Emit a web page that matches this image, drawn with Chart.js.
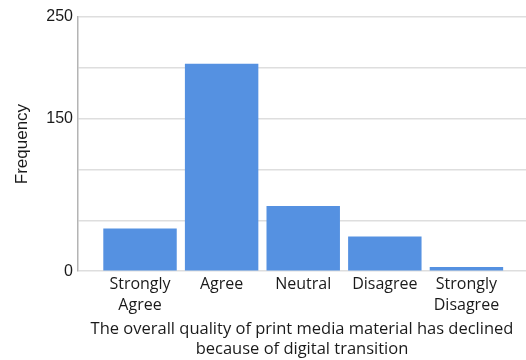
<!DOCTYPE html>
<html>
<head>
<meta charset="utf-8">
<script src="https://cdn.jsdelivr.net/npm/chart.js@4.4.1/dist/chart.umd.min.js"></script>
<style>
  html, body { margin: 0; padding: 0; background: #fff; }
  #wrap { width: 526px; height: 360px; }
</style>
</head>
<body>
<div id="wrap"><canvas id="chartFreq"></canvas></div>
<script>
// data
const categories = [
  ["Strongly", "Agree"],
  "Agree",
  "Neutral",
  "Disagree",
  ["Strongly", "Disagree"],
];
const frequencies = [42, 204, 64, 34, 4];
const yTickLabels = [0, 150, 250];

const points = frequencies.map((v, i) => ({ x: i, y: v }));

const ctx = document.getElementById("chartFreq");
new Chart(ctx.getContext("2d"), {
  type: "bar",
  data: {
    datasets: [
      {
        label: "Frequency",
        data: points,
        backgroundColor: "#5591e1",
        borderWidth: 0,
        barPercentage: 0.9,
        categoryPercentage: 1,
      },
    ],
  },
  options: {
    responsive: true,
    maintainAspectRatio: false,
    animation: false,
    layout: { padding: { top: 17, right: 0, bottom: 0, left: 0 } },
    plugins: { legend: { display: false }, tooltip: { enabled: false } },
    scales: {
      x: {
        type: "linear",
        offset: false,
        min: -0.76,
        max: 4.73,
        grid: { display: false, drawTicks: false },
        border: { display: false },
        ticks: {
          stepSize: 1,
          includeBounds: false,
          autoSkip: false,
          maxRotation: 0,
          padding: 3,
          color: "#1a1a1a",
          font: { family: "Open Sans", size: 16, lineHeight: 1.3 },
          callback: (v) => (Number.isInteger(v) ? categories[v] : ""),
        },
        title: {
          display: true,
          text: [
            "The overall quality of print media material has declined",
            "because of digital transition",
          ],
          color: "#1a1a1a",
          font: { family: "Open Sans", size: 16.5, lineHeight: 1.25 },
          padding: { top: 0, bottom: 0 },
        },
      },
      y: {
        min: 0,
        max: 250,
        grid: { color: "#dedede", lineWidth: 1.5, drawTicks: false },
        border: { color: "#b4b4b4", width: 1.5 },
        ticks: {
          stepSize: 50,
          padding: 5,
          color: "#1a1a1a",
          font: { family: "Liberation Sans", size: 16 },
          callback: (v) => (yTickLabels.includes(v) ? v : ""),
        },
        title: {
          display: true,
          text: "Frequency",
          color: "#1a1a1a",
          font: { family: "Liberation Sans", size: 17 },
          padding: { top: 12, bottom: 0 },
        },
        afterFit: (scale) => {
          scale.width = 78;
        },
      },
    },
  },
});
</script>
</body>
</html>
